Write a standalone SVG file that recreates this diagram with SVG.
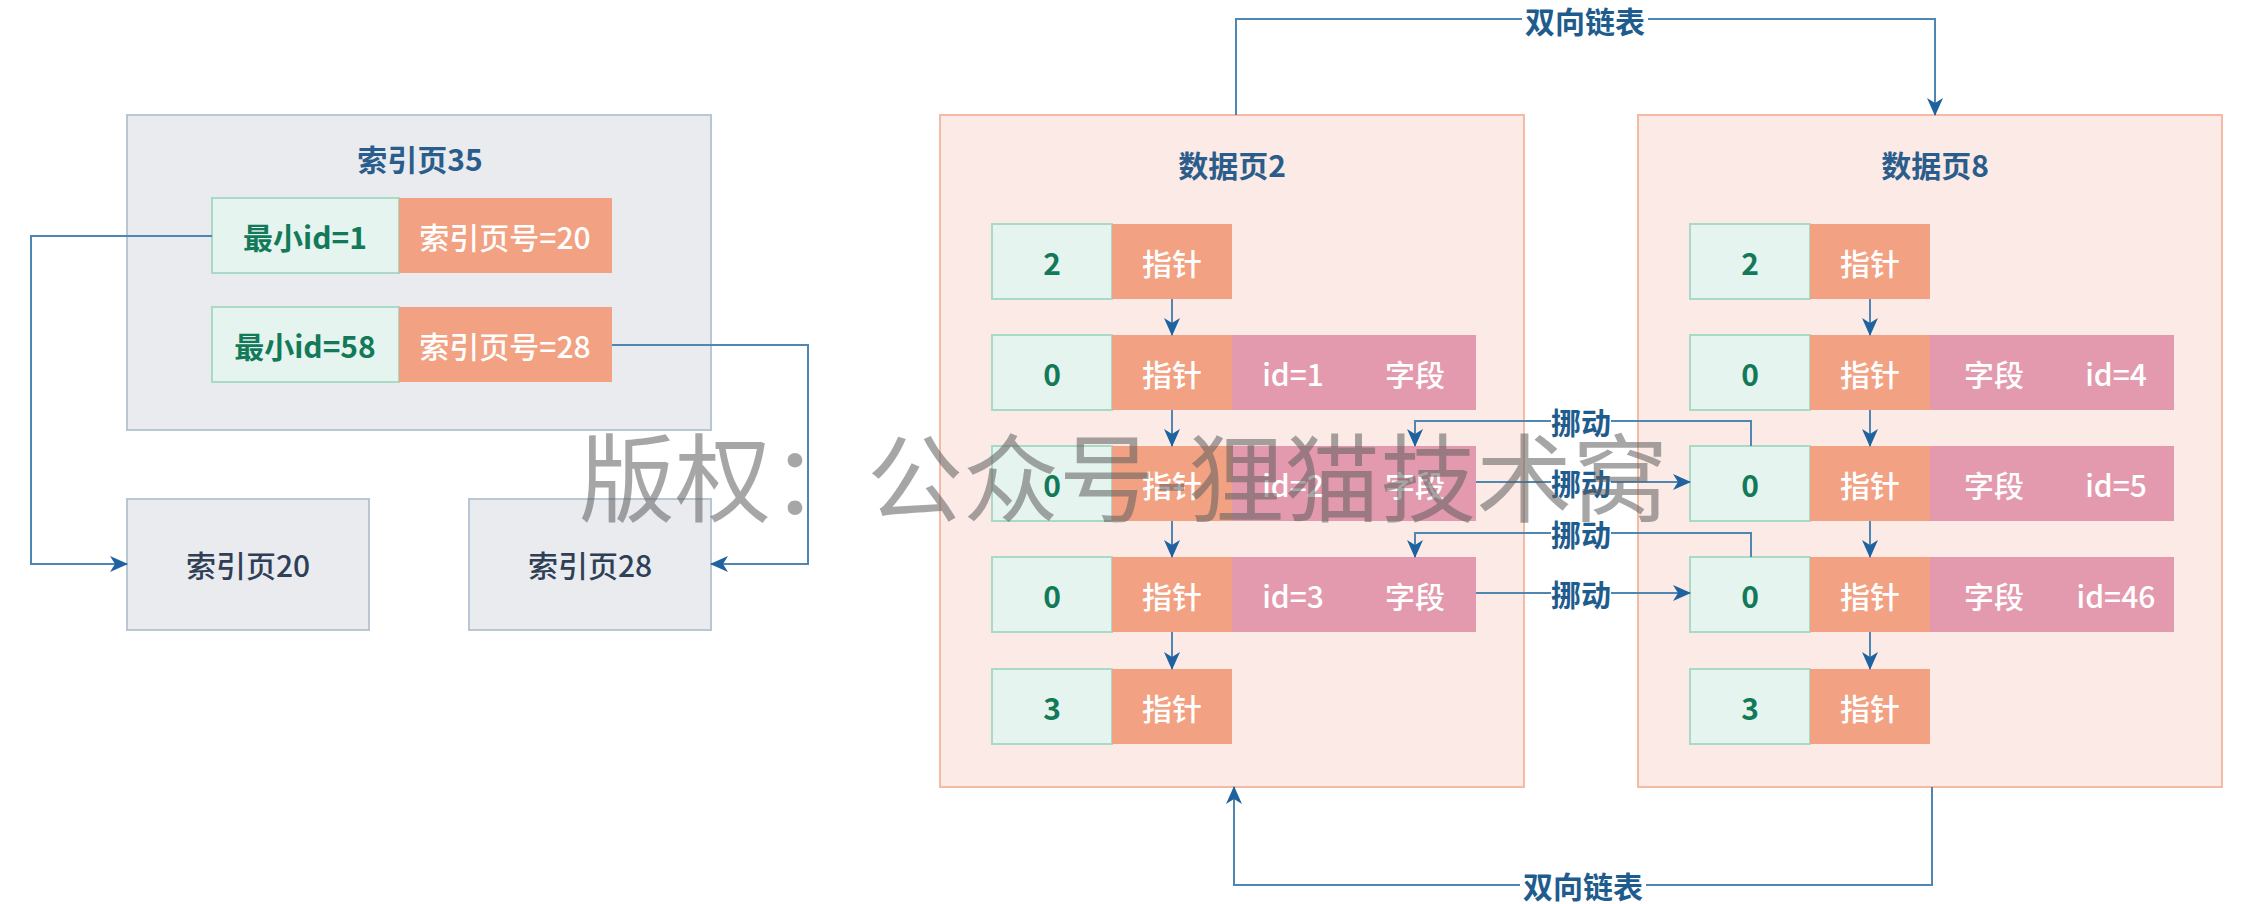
<svg xmlns="http://www.w3.org/2000/svg" width="2242" height="904" viewBox="0 0 2242 904">
<style>
text{font-family:"Noto Sans CJK SC","Noto Sans",sans-serif;font-size:30px;text-anchor:middle;dominant-baseline:central}
.ipage{fill:#E9EBEF;stroke:#B9C6D4;stroke-width:2}
.dpage{fill:#FBEAE5;stroke:#F3BBA3;stroke-width:2}
.g{fill:#E6F4EF;stroke:#A9D9C7;stroke-width:2}
.o{fill:#F2A283}
.p{fill:#E39AAE}
.tg{fill:#137A59;font-weight:bold}
.tw{fill:#FFFFFF;font-weight:500}
.tt{fill:#2B5D8C;font-weight:bold}
.tn{fill:#2F3F55;font-weight:500}
.lbl{fill:#1F5C8E;font-weight:bold}
.ln{fill:none;stroke:#4F86B2;stroke-width:2}
.wm{fill:#5F5F5F;opacity:0.55;font-size:96px;text-anchor:start;font-weight:normal}
</style>
<defs>
<marker id="ah" markerUnits="userSpaceOnUse" viewBox="0 0 18 16" refX="17" refY="8" markerWidth="18" markerHeight="16" orient="auto">
<path d="M0,0 L18,8 L0,16 L5,8 Z" fill="#1E62A0"/>
</marker>
</defs>

<g id="index35">
<rect class="ipage" x="127" y="115" width="584" height="315"/>
<text class="tt" x="420" y="158">索引页35</text>
<rect class="g" x="212" y="198" width="187" height="75"/>
<rect class="o" x="399" y="198" width="213" height="75"/>
<text class="tg" x="305" y="236">最小id=1</text>
<text class="tw" x="505" y="236">索引页号=20</text>
<rect class="g" x="212" y="307" width="187" height="75"/>
<rect class="o" x="399" y="307" width="213" height="75"/>
<text class="tg" x="305" y="345">最小id=58</text>
<text class="tw" x="505" y="345">索引页号=28</text>
</g>

<g id="index20">
<rect class="ipage" x="127" y="499" width="242" height="131"/>
<text class="tn" x="248" y="564">索引页20</text>
</g>
<g id="index28">
<rect class="ipage" x="469" y="499" width="242" height="131"/>
<text class="tn" x="590" y="564">索引页28</text>
</g>

<g id="datapage2">
<rect class="dpage" x="940" y="115" width="584" height="672"/>
<text class="tt" x="1232" y="164">数据页2</text>
<rect class="g" x="992" y="224" width="120" height="75"/><rect class="o" x="1112" y="224" width="120" height="75"/>
<text class="tg" x="1052" y="262">2</text><text class="tw" x="1172" y="262">指针</text>
<rect class="g" x="992" y="335" width="120" height="75"/><rect class="o" x="1112" y="335" width="120" height="75"/><rect class="p" x="1232" y="335" width="244" height="75"/>
<text class="tg" x="1052" y="373">0</text><text class="tw" x="1172" y="373">指针</text><text class="tw" x="1293" y="373">id=1</text><text class="tw" x="1415" y="373">字段</text>
<rect class="g" x="992" y="446" width="120" height="75"/><rect class="o" x="1112" y="446" width="120" height="75"/><rect class="p" x="1232" y="446" width="244" height="75"/>
<text class="tg" x="1052" y="484">0</text><text class="tw" x="1172" y="484">指针</text><text class="tw" x="1293" y="484">id=2</text><text class="tw" x="1415" y="484">字段</text>
<rect class="g" x="992" y="557" width="120" height="75"/><rect class="o" x="1112" y="557" width="120" height="75"/><rect class="p" x="1232" y="557" width="244" height="75"/>
<text class="tg" x="1052" y="595">0</text><text class="tw" x="1172" y="595">指针</text><text class="tw" x="1293" y="595">id=3</text><text class="tw" x="1415" y="595">字段</text>
<rect class="g" x="992" y="669" width="120" height="75"/><rect class="o" x="1112" y="669" width="120" height="75"/>
<text class="tg" x="1052" y="707">3</text><text class="tw" x="1172" y="707">指针</text>
</g>

<g id="datapage8">
<rect class="dpage" x="1638" y="115" width="584" height="672"/>
<text class="tt" x="1935" y="164">数据页8</text>
<rect class="g" x="1690" y="224" width="120" height="75"/><rect class="o" x="1810" y="224" width="120" height="75"/>
<text class="tg" x="1750" y="262">2</text><text class="tw" x="1870" y="262">指针</text>
<rect class="g" x="1690" y="335" width="120" height="75"/><rect class="o" x="1810" y="335" width="120" height="75"/><rect class="p" x="1930" y="335" width="244" height="75"/>
<text class="tg" x="1750" y="373">0</text><text class="tw" x="1870" y="373">指针</text><text class="tw" x="1994" y="373">字段</text><text class="tw" x="2116" y="373">id=4</text>
<rect class="g" x="1690" y="446" width="120" height="75"/><rect class="o" x="1810" y="446" width="120" height="75"/><rect class="p" x="1930" y="446" width="244" height="75"/>
<text class="tg" x="1750" y="484">0</text><text class="tw" x="1870" y="484">指针</text><text class="tw" x="1994" y="484">字段</text><text class="tw" x="2116" y="484">id=5</text>
<rect class="g" x="1690" y="557" width="120" height="75"/><rect class="o" x="1810" y="557" width="120" height="75"/><rect class="p" x="1930" y="557" width="244" height="75"/>
<text class="tg" x="1750" y="595">0</text><text class="tw" x="1870" y="595">指针</text><text class="tw" x="1994" y="595">字段</text><text class="tw" x="2116" y="595">id=46</text>
<rect class="g" x="1690" y="669" width="120" height="75"/><rect class="o" x="1810" y="669" width="120" height="75"/>
<text class="tg" x="1750" y="707">3</text><text class="tw" x="1870" y="707">指针</text>
</g>

<g id="connectors">
<path class="ln" d="M212,236 H31 V564 H127" marker-end="url(#ah)"/>
<path class="ln" d="M612,345 H808 V564 H711" marker-end="url(#ah)"/>
<path class="ln" d="M1236,115 V19 H1935 V115" marker-end="url(#ah)"/>
<path class="ln" d="M1932,787 V885 H1234 V787" marker-end="url(#ah)"/>
<path class="ln" d="M1172,299 V335" marker-end="url(#ah)"/>
<path class="ln" d="M1172,410 V446" marker-end="url(#ah)"/>
<path class="ln" d="M1172,521 V557" marker-end="url(#ah)"/>
<path class="ln" d="M1172,632 V669" marker-end="url(#ah)"/>
<path class="ln" d="M1870,299 V335" marker-end="url(#ah)"/>
<path class="ln" d="M1870,410 V446" marker-end="url(#ah)"/>
<path class="ln" d="M1870,521 V557" marker-end="url(#ah)"/>
<path class="ln" d="M1870,632 V669" marker-end="url(#ah)"/>
<path class="ln" d="M1751,446 V421 H1415 V446" marker-end="url(#ah)"/>
<path class="ln" d="M1476,482 H1690" marker-end="url(#ah)"/>
<path class="ln" d="M1751,557 V533 H1415 V557" marker-end="url(#ah)"/>
<path class="ln" d="M1476,593 H1690" marker-end="url(#ah)"/>
<g id="labels">
<rect x="1522" y="2" width="126" height="34" fill="#FFFFFF"/>
<text class="lbl" x="1585" y="20">双向链表</text>
<rect x="1520" y="867" width="126" height="36" fill="#FFFFFF"/>
<text class="lbl" x="1583" y="885">双向链表</text>
<rect x="1551" y="405" width="60" height="32" fill="#FFFFFF"/>
<text class="lbl" x="1581" y="421">挪动</text>
<rect x="1551" y="466" width="60" height="32" fill="#FFFFFF"/>
<text class="lbl" x="1581" y="482">挪动</text>
<rect x="1551" y="517" width="60" height="32" fill="#FFFFFF"/>
<text class="lbl" x="1581" y="533">挪动</text>
<rect x="1551" y="577" width="60" height="32" fill="#FFFFFF"/>
<text class="lbl" x="1581" y="593">挪动</text>
</g>
</g>

<text class="wm" x="579" y="472">版权：公众号-狸猫技术窝</text>
</svg>
